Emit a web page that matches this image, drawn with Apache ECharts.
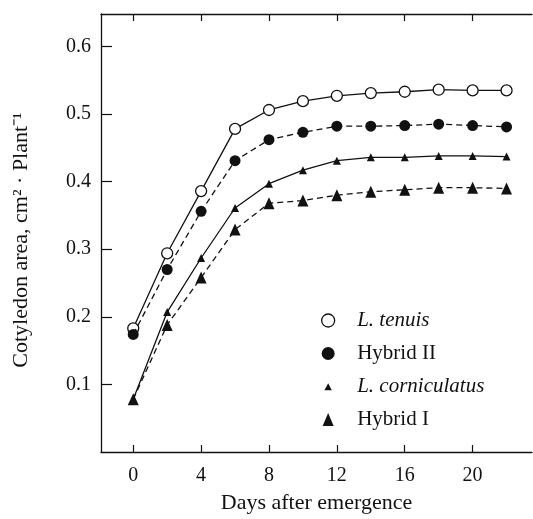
<!DOCTYPE html>
<html>
<head>
<meta charset="utf-8">
<script src="https://cdn.jsdelivr.net/npm/echarts@6/dist/echarts.min.js"></script>
<style>
html,body{margin:0;padding:0;background:#fff;}
#chart{width:533px;height:519px;}
</style>
</head>
<body>
<div id="chart"></div>
<script>
const days = [0, 2, 4, 6, 8, 10, 12, 14, 16, 18, 20, 22];
const xTicks = [0, 4, 8, 12, 16, 20];
const yTicks = [0.1, 0.2, 0.3, 0.4, 0.5, 0.6];
const tenuis = [0.183, 0.294, 0.386, 0.478, 0.506, 0.519, 0.527, 0.531, 0.533, 0.536, 0.535, 0.535];
const hybrid2 = [0.174, 0.270, 0.356, 0.431, 0.462, 0.473, 0.482, 0.482, 0.483, 0.485, 0.483, 0.481];
const corniculatus = [0.078, 0.207, 0.287, 0.361, 0.397, 0.417, 0.431, 0.436, 0.436, 0.438, 0.438, 0.437];
const hybrid1 = [0.078, 0.188, 0.258, 0.329, 0.368, 0.372, 0.380, 0.385, 0.388, 0.391, 0.391, 0.390];
const names = ['L. tenuis', 'Hybrid II', 'L. corniculatus', 'Hybrid I'];

const ink = '#111';
const font = 'Liberation Serif';
const pair = arr => days.map((d, i) => [d, arr[i]]);

const smallTri = 'path://M0,0M11,13M5.5,3.2L9.2,10.2L1.8,10.2Z';
const bigTri = 'path://M5.5,0L11,13L0,13Z';

const chart = echarts.init(document.getElementById('chart'));
chart.setOption({
  backgroundColor: '#fff',
  animation: false,
  grid: { left: 101, right: 1, top: 14, bottom: 67 },
  legend: {
    orient: 'vertical',
    left: 316,
    top: 305,
    itemWidth: 48,
    itemHeight: 13,
    itemGap: 12,
    selectedMode: false,
    textStyle: { fontFamily: font, fontSize: 21, color: ink, lineHeight: 20 },
    data: [
      { name: names[0], icon: 'circle', itemStyle: { color: '#fff', borderColor: ink, borderWidth: 1.3 }, textStyle: { fontStyle: 'italic' } },
      { name: names[1], icon: 'circle', itemStyle: { color: ink, borderWidth: 0 } },
      { name: names[2], icon: smallTri, itemStyle: { color: ink, borderWidth: 0 }, textStyle: { fontStyle: 'italic' } },
      { name: names[3], icon: bigTri, itemStyle: { color: ink, borderWidth: 0 } }
    ]
  },
  xAxis: [{
    type: 'value',
    min: -1.9,
    max: 23.5,
    position: 'bottom',
    name: 'Days after emergence',
    nameLocation: 'middle',
    nameGap: 40,
    nameTextStyle: { fontFamily: font, fontSize: 22, color: ink },
    axisLine: { show: true, onZero: false, lineStyle: { color: ink, width: 1.3 } },
    axisTick: { show: true, inside: true, length: 7, customValues: xTicks, lineStyle: { color: ink, width: 1.2 } },
    axisLabel: { customValues: xTicks, margin: 14, fontFamily: font, fontSize: 20, color: ink },
    splitLine: { show: false }
  }, {
    type: 'value',
    min: -1.9,
    max: 23.5,
    position: 'top',
    axisLine: { show: true, onZero: false, lineStyle: { color: ink, width: 1.3 } },
    axisTick: { show: true, inside: true, length: 7, customValues: xTicks, lineStyle: { color: ink, width: 1.2 } },
    axisLabel: { show: false },
    splitLine: { show: false }
  }],
  yAxis: {
    type: 'value',
    min: 0,
    max: 0.648,
    name: 'Cotyledon area, cm² · Plant⁻¹',
    nameLocation: 'middle',
    nameGap: 69,
    nameTextStyle: { fontFamily: font, fontSize: 22, color: ink, padding: [0, 14, 0, 0] },
    axisLine: { show: true, onZero: false, lineStyle: { color: ink, width: 1.3 } },
    axisTick: { show: true, inside: true, length: 11, customValues: yTicks, lineStyle: { color: ink, width: 1.2 } },
    axisLabel: { customValues: yTicks, margin: 10, fontFamily: font, fontSize: 20, color: ink,
      formatter: v => Number(v).toFixed(1) },
    splitLine: { show: false }
  },
  series: [
    { name: names[0], type: 'line', data: pair(tenuis), symbol: 'circle', symbolSize: 11,
      itemStyle: { color: '#fff', borderColor: ink, borderWidth: 1.3 },
      lineStyle: { color: ink, width: 1.3, type: 'solid' }, z: 2 },
    { name: names[1], type: 'line', data: pair(hybrid2), symbol: 'circle', symbolSize: 11,
      itemStyle: { color: ink, borderWidth: 0 },
      lineStyle: { color: ink, width: 1.3, type: [6, 4] }, z: 3 },
    { name: names[2], type: 'line', data: pair(corniculatus), symbol: 'triangle', symbolSize: [8, 8],
      itemStyle: { color: ink, borderWidth: 0 },
      lineStyle: { color: ink, width: 1.3, type: 'solid' }, z: 2 },
    { name: names[3], type: 'line', data: pair(hybrid1), symbol: 'triangle', symbolSize: [11, 12],
      itemStyle: { color: ink, borderWidth: 0 },
      lineStyle: { color: ink, width: 1.3, type: [6, 4] }, z: 3 }
  ]
});
</script>
</body>
</html>
